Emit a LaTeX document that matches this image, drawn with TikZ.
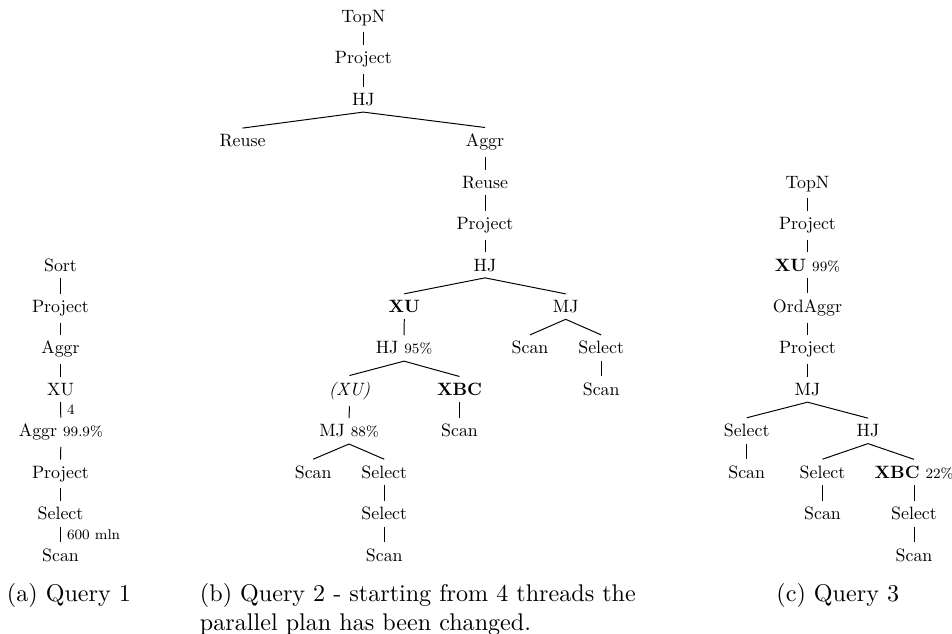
\documentclass[tikz,border=0pt]{standalone}
\newcommand\pctlabel[1]{{\fontsize{8}{9.6}\selectfont #1}}
\begin{document}
\begin{tikzpicture}[x=0.56pt, y=-0.56pt,
  op/.style={anchor=base, inner sep=3.4pt, font=\fontsize{10}{12}\selectfont},
  edge/.style={line width=0.55pt},
  cnt/.style={anchor=west, inner sep=3.4pt, font=\fontsize{8}{9.6}\selectfont},
  captext/.style={anchor=base west, inner sep=0pt, font=\fontsize{10}{12}\selectfont,
                  scale=1.35, transform shape}]
\path[use as bounding box] (0,0) rectangle (952,634);

% plan trees: y counts tree levels
\begin{scope}[y=-23.2064pt, yshift=-12.544pt]
  % (a) Query 1
  \node[op] (a1) at (60.5,6) {Sort};
  \node[op] (a2) at (60.5,7) {Project};
  \node[op] (a3) at (60.5,8) {Aggr};
  \node[op] (a4) at (60.5,9) {XU};
  \node[op] (a5) at (60.8,10) {Aggr \pctlabel{99.9\%}};
  \node[op] (a6) at (60.5,11) {Project};
  \node[op] (a7) at (60.5,12) {Select};
  \node[op] (a8) at (60.5,13) {Scan};
  \draw[edge] (a1.south) -- (a2.north);
  \draw[edge] (a2.south) -- (a3.north);
  \draw[edge] (a3.south) -- (a4.north);
  \draw[edge] (a4.south) -- node[cnt] {4} (a5.north);
  \draw[edge] (a5.south) -- (a6.north);
  \draw[edge] (a6.south) -- (a7.north);
  \draw[edge] (a7.south) -- node[cnt] {600 mln} (a8.north);

  % (b) Query 2
  \node[op] (b1) at (363.3,0) {TopN};
  \node[op] (b2) at (363.3,1) {Project};
  \node[op] (b3) at (363.3,2) {HJ};
  \node[op] (b4) at (242.5,3) {Reuse};
  \node[op] (b5) at (485,3) {Aggr};
  \node[op] (b6) at (485,4) {Reuse};
  \node[op] (b7) at (485,5) {Project};
  \node[op] (b8) at (485,6) {HJ};
  \node[op] (b9) at (404.3,7) {\bfseries XU};
  \node[op] (b10) at (565.7,7) {MJ};
  \node[op] (b11) at (404,8) {HJ \pctlabel{95\%}};
  \node[op] (b12) at (530,8) {Scan};
  \node[op] (b13) at (601.2,8) {Select};
  \node[op] (b14) at (349.5,9) {\itshape (XU)};
  \node[op] (b15) at (459.5,9) {\bfseries XBC};
  \node[op] (b16) at (601.2,9) {Scan};
  \node[op] (b17) at (349,10) {MJ \pctlabel{88\%}};
  \node[op] (b18) at (459.5,10) {Scan};
  \node[op] (b19) at (313.2,11) {Scan};
  \node[op] (b20) at (384.3,11) {Select};
  \node[op] (b21) at (384.3,12) {Select};
  \node[op] (b22) at (384.3,13) {Scan};
  \draw[edge] (b1.south) -- (b2.north);
  \draw[edge] (b2.south) -- (b3.north);
  \draw[edge] (b3.south) -- (b4.north);
  \draw[edge] (b3.south) -- (b5.north);
  \draw[edge] (b5.south) -- (b6.north);
  \draw[edge] (b6.south) -- (b7.north);
  \draw[edge] (b7.south) -- (b8.north);
  \draw[edge] (b8.south) -- (b9.north);
  \draw[edge] (b8.south) -- (b10.north);
  \draw[edge] (b9.south) -- (b11.north);
  \draw[edge] (b10.south) -- (b12.north);
  \draw[edge] (b10.south) -- (b13.north);
  \draw[edge] (b13.south) -- (b16.north);
  \draw[edge] (b11.south) -- (b14.north);
  \draw[edge] (b11.south) -- (b15.north);
  \draw[edge] (b14.south) -- (b17.north);
  \draw[edge] (b15.south) -- (b18.north);
  \draw[edge] (b17.south) -- (b19.north);
  \draw[edge] (b17.south) -- (b20.north);
  \draw[edge] (b20.south) -- (b21.north);
  \draw[edge] (b21.south) -- (b22.north);

  % (c) Query 3
  \node[op] (c1) at (807.5,4) {TopN};
  \node[op] (c2) at (807.5,5) {Project};
  \node[op] (c3) at (807.5,6) {\textbf{XU} \pctlabel{99\%}};
  \node[op] (c4) at (807.5,7) {OrdAggr};
  \node[op] (c5) at (807.5,8) {Project};
  \node[op] (c6) at (807.5,9) {MJ};
  \node[op] (c7) at (746.7,10) {Select};
  \node[op] (c8) at (868,10) {HJ};
  \node[op] (c9) at (746.7,11) {Scan};
  \node[op] (c10) at (822.5,11) {Select};
  \node[op] (c11) at (914,11) {\textbf{XBC} \pctlabel{22\%}};
  \node[op] (c12) at (822.5,12) {Scan};
  \node[op] (c13) at (914,12) {Select};
  \node[op] (c14) at (914,13) {Scan};
  \draw[edge] (c1.south) -- (c2.north);
  \draw[edge] (c2.south) -- (c3.north);
  \draw[edge] (c3.south) -- (c4.north);
  \draw[edge] (c4.south) -- (c5.north);
  \draw[edge] (c5.south) -- (c6.north);
  \draw[edge] (c6.south) -- (c7.north);
  \draw[edge] (c6.south) -- (c8.north);
  \draw[edge] (c7.south) -- (c9.north);
  \draw[edge] (c8.south) -- (c10.north);
  \draw[edge] (c8.south) -- (c11.north);
  \draw[edge] (c10.south) -- (c12.north);
  \draw[edge] (c11.south) -- (c13.north);
  \draw[edge] (c13.south) -- (c14.north);
\end{scope}

% sub-captions
\node[captext] (capa) at (6.5,602) {(a) Query 1};
\node[captext] (capb1) at (199.5,602) {(b) Query 2 - starting from 4 threads the};
\node[captext] (capb2) at (199.5,630.5) {parallel plan has been changed.};
\node[captext] (capc) at (776,602) {(c) Query 3};
\end{tikzpicture}
\end{document}
